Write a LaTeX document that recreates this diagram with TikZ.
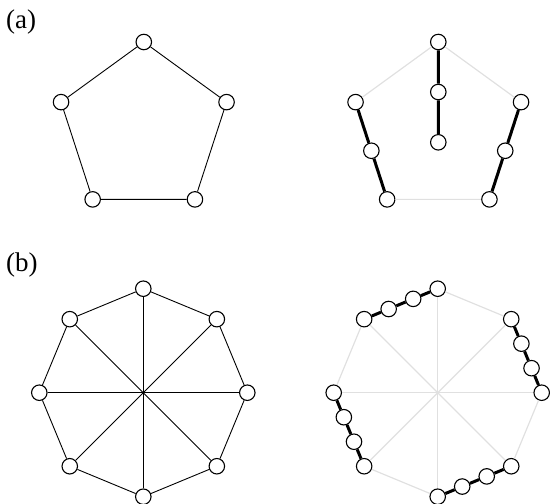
\documentclass[tikz,border=0pt]{standalone}
\usepackage{fontspec}
\setmainfont{Liberation Serif}
\usetikzlibrary{calc}
\begin{document}
\begin{tikzpicture}[x=1pt,y=1pt,
  vtx/.style={circle,draw=black,fill=white,line width=1.1pt,minimum size=15.5pt,inner sep=0pt},
  edge/.style={draw=black,line width=0.9pt},
  faint/.style={draw=black!12,line width=1.2pt},
  heavy/.style={draw=black,line width=3pt},
  lbl/.style={font=\fontsize{27}{32}\selectfont,inner sep=0pt,anchor=base west}]
\useasboundingbox (0,-504) rectangle (550,0);
\node[lbl] (la) at (6,-28) {(a)};
\node[lbl] (lb) at (6,-271.5) {(b)};

% ---- left pentagon
\begin{scope}[shift={(143.8,-129)}]
  \foreach \i/\a in {1/90,2/162,3/234,4/306,5/18}
    \node[vtx] (p\i) at (\a:87) {};
\end{scope}
\draw[edge] (p1) -- (p2) (p2) -- (p3) (p3) -- (p4) (p4) -- (p5) (p5) -- (p1);

% ---- right pentagon
\begin{scope}[shift={(438.3,-129)}]
  \foreach \i/\a in {1/90,2/162,3/234,4/306,5/18}
    \node[vtx] (q\i) at (\a:87) {};
  \node[vtx] (qm1) at (0,37) {};
  \node[vtx] (qm2) at (0,-13.3) {};
\end{scope}
\node[vtx] (ql) at ($(q2)!0.5!(q3)$) {};
\node[vtx] (qr) at ($(q5)!0.5!(q4)$) {};
\draw[faint] (q1) -- (q2) (q1) -- (q5) (q3) -- (q4);
\draw[heavy] (q1) -- (qm1) (qm1) -- (qm2)
             (q2) -- (ql) (ql) -- (q3)
             (q5) -- (qr) (qr) -- (q4);

% ---- left octagon
\begin{scope}[shift={(143.3,-392.7)}]
  \foreach \i in {0,...,7}
    \node[vtx] (o\i) at ({90+45*\i}:104) {};
\end{scope}
\foreach \i in {0,...,7}{
  \pgfmathtruncatemacro{\j}{mod(\i+1,8)}
  \draw[edge] (o\i) -- (o\j);
}
\foreach \i in {0,...,3}{
  \pgfmathtruncatemacro{\j}{\i+4}
  \draw[edge] (o\i) -- (o\j);
}

% ---- right octagon
\begin{scope}[shift={(437.7,-392.7)}]
  \foreach \i in {0,...,7}
    \node[vtx] (r\i) at ({90+45*\i}:104) {};
\end{scope}
\foreach \i in {0,...,3}{
  \pgfmathtruncatemacro{\j}{\i+4}
  \draw[faint] (r\i) -- (r\j);
}
% faint perimeter edges: 0-7, 1-2, 3-4, 5-6
\draw[faint] (r0) -- (r7) (r1) -- (r2) (r3) -- (r4) (r5) -- (r6);
% chains: 0-1, 2-3, 4-5, 6-7
\foreach \a/\b in {0/1,2/3,4/5,6/7}{
  \node[vtx] (c\a a) at ($(r\a)!1/3!(r\b)$) {};
  \node[vtx] (c\a b) at ($(r\a)!2/3!(r\b)$) {};
  \draw[heavy] (r\a) -- (c\a a) (c\a a) -- (c\a b) (c\a b) -- (r\b);
}
\end{tikzpicture}
\end{document}
